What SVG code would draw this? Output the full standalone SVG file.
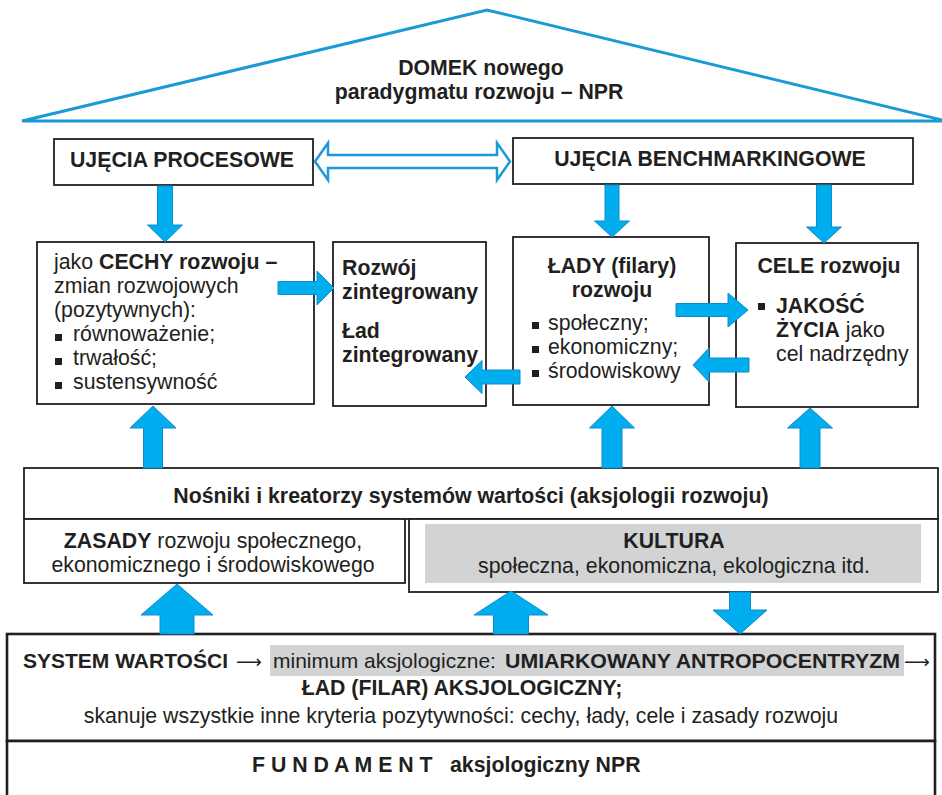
<svg xmlns="http://www.w3.org/2000/svg" width="942" height="795" viewBox="0 0 942 795">
<style>
  text{font-family:"Liberation Sans",Arial,Helvetica,sans-serif;font-size:21.3px;fill:#231f20}
  .b{font-weight:bold}
  .m{text-anchor:middle}
  .ar{font-family:"DejaVu Sans",sans-serif;font-size:18px}
  .box{fill:#fff;stroke:#231f20;stroke-width:1.8}
  .heavy{fill:#fff;stroke:#231f20;stroke-width:2.6}
  .arr{fill:#00aeef;stroke:#0e8ccb;stroke-width:1}
  .blt{fill:#231f20}
</style>
<rect width="942" height="795" fill="#fff"/>

<!-- roof -->
<g id="roof">
  <polygon points="22,121 487,10 946,121" fill="none" stroke="#1b9ad6" stroke-width="3"/>
  <text class="b m" x="481" y="75">DOMEK nowego</text>
  <text class="b m" x="479" y="99">paradygmatu rozwoju – NPR</text>
</g>

<!-- top approaches -->
<g id="ujecia-procesowe">
  <rect class="box" x="54" y="139" width="259" height="46"/>
  <text class="b m" x="182" y="167">UJĘCIA PROCESOWE</text>
</g>
<g id="ujecia-benchmarkingowe">
  <rect class="box" x="513" y="138" width="400" height="46"/>
  <text class="b m" x="710" y="166">UJĘCIA BENCHMARKINGOWE</text>
</g>

<!-- middle row -->
<g id="cechy">
  <rect class="box" x="37" y="242" width="277" height="162"/>
  <text x="54" y="269">jako <tspan class="b">CECHY rozwoju –</tspan></text>
  <text x="54" y="293">zmian rozwojowych</text>
  <text x="54" y="317">(pozytywnych):</text>
  <rect class="blt" x="55" y="334" width="7" height="7"/>
  <text x="73" y="341">równoważenie;</text>
  <rect class="blt" x="55" y="358" width="7" height="7"/>
  <text x="73" y="365">trwałość;</text>
  <rect class="blt" x="55" y="382" width="7" height="7"/>
  <text x="73" y="389">sustensywność</text>
</g>
<g id="rozwoj-zintegrowany">
  <rect class="box" x="333" y="242" width="153" height="164"/>
  <text class="b" x="342" y="275">Rozwój</text>
  <text class="b" x="342" y="299">zintegrowany</text>
  <text class="b" x="342" y="338">Ład</text>
  <text class="b" x="342" y="362">zintegrowany</text>
</g>
<g id="lady">
  <rect class="box" x="513" y="237" width="196" height="168"/>
  <text class="b m" x="612" y="273">ŁADY (filary)</text>
  <text class="b m" x="612" y="297">rozwoju</text>
  <rect class="blt" x="532" y="322" width="7" height="7"/>
  <text x="548" y="330">społeczny;</text>
  <rect class="blt" x="532" y="346" width="7" height="7"/>
  <text x="548" y="354">ekonomiczny;</text>
  <rect class="blt" x="532" y="370" width="7" height="7"/>
  <text x="548" y="378">środowiskowy</text>
</g>
<g id="cele">
  <rect class="box" x="736" y="243" width="182" height="164"/>
  <text class="b m" x="829" y="273">CELE rozwoju</text>
  <rect class="blt" x="758" y="303" width="7" height="7"/>
  <text class="b" x="776" y="313">JAKOŚĆ</text>
  <text x="776" y="337"><tspan class="b">ŻYCIA</tspan> jako</text>
  <text x="776" y="361">cel nadrzędny</text>
</g>

<!-- carriers of values -->
<g id="nosniki">
  <rect class="box" x="24" y="468" width="914" height="51"/>
  <text class="b m" x="471" y="503">Nośniki i kreatorzy systemów wartości (aksjologii rozwoju)</text>
</g>
<g id="zasady">
  <rect class="box" x="24" y="519" width="381" height="64"/>
  <text class="m" x="213" y="548"><tspan class="b">ZASADY</tspan> rozwoju społecznego,</text>
  <text class="m" x="213" y="572">ekonomicznego i środowiskowego</text>
</g>
<g id="kultura">
  <rect class="box" x="409" y="519" width="529" height="73"/>
  <rect x="425" y="524" width="496" height="59" fill="#d1d3d4"/>
  <text class="b m" x="674" y="548">KULTURA</text>
  <text class="m" x="674" y="573">społeczna, ekonomiczna, ekologiczna itd.</text>
</g>

<!-- value system and foundation -->
<g id="system-wartosci">
  <rect class="heavy" x="7" y="634" width="928" height="107"/>
  <rect x="270" y="645" width="634" height="31" fill="#d1d3d4"/>
  <text y="668" style="font-size:21px"><tspan class="b" x="23">SYSTEM WARTOŚCI</tspan><tspan class="ar" x="236">⟶</tspan><tspan x="273">minimum aksjologiczne:</tspan><tspan class="b" x="505" textLength="395" lengthAdjust="spacingAndGlyphs">UMIARKOWANY ANTROPOCENTRYZM</tspan><tspan class="ar" x="904">⟶</tspan></text>
  <text class="b m" x="462" y="695">ŁAD (FILAR) AKSJOLOGICZNY;</text>
  <text class="m" x="461" y="723">skanuje wszystkie inne kryteria pozytywności: cechy, łady, cele i zasady rozwoju</text>
</g>
<g id="fundament">
  <rect class="heavy" x="7" y="741" width="928" height="70"/>
  <text class="b" y="772"><tspan x="252">F U N D A M E N T</tspan><tspan x="450">aksjologiczny NPR</tspan></text>
</g>

<!-- connectors -->
<g id="connectors">
  <polygon points="315,161.5 328,143 328,155 497,155 497,143 510,161.5 497,180 497,168 328,168 328,180" fill="#fff" stroke="#1b9ad6" stroke-width="2.5" stroke-linejoin="miter"/>
  <!-- down from the approaches -->
  <polygon class="arr" points="157.5,186 172.5,186 172.5,225 182.5,225 165,242 147.5,225 157.5,225"/>
  <polygon class="arr" points="605,185 619,185 619,221 629.5,221 612,237 594.5,221 605,221"/>
  <polygon class="arr" points="816.5,185 831.5,185 831.5,227 841.5,227 824,243 806.5,227 816.5,227"/>
  <!-- horizontal links in the middle row -->
  <polygon class="arr" points="278,281.5 317,281.5 317,271 334,288 317,305 317,294.5 278,294.5"/>
  <polygon class="arr" points="520,370 482,370 482,360.5 465,377 482,393.5 482,384 520,384"/>
  <polygon class="arr" points="676,303.5 728,303.5 728,293 748,310 728,327 728,316.5 676,316.5"/>
  <polygon class="arr" points="749,358 709,358 709,348 693,365 709,382 709,372 749,372"/>
  <!-- up from the carriers -->
  <polygon class="arr" points="143.5,468 162.5,468 162.5,428 176,428 153,406 130,428 143.5,428"/>
  <polygon class="arr" points="602,468 622,468 622,428 634.5,428 612,406 589.5,428 602,428"/>
  <polygon class="arr" points="800,468 820,468 820,428 832.5,428 810,408 787.5,428 800,428"/>
  <!-- between the value system and the carriers -->
  <polygon class="arr" points="160,634 194,634 194,615 213,615 177,584 141,615 160,615"/>
  <polygon class="arr" points="493.5,634 528.5,634 528.5,615 548,615 511,591 474,615 493.5,615"/>
  <polygon class="arr" points="729.5,592 750.5,592 750.5,610 767,610 740,634 713,610 729.5,610"/>
</g>
</svg>
